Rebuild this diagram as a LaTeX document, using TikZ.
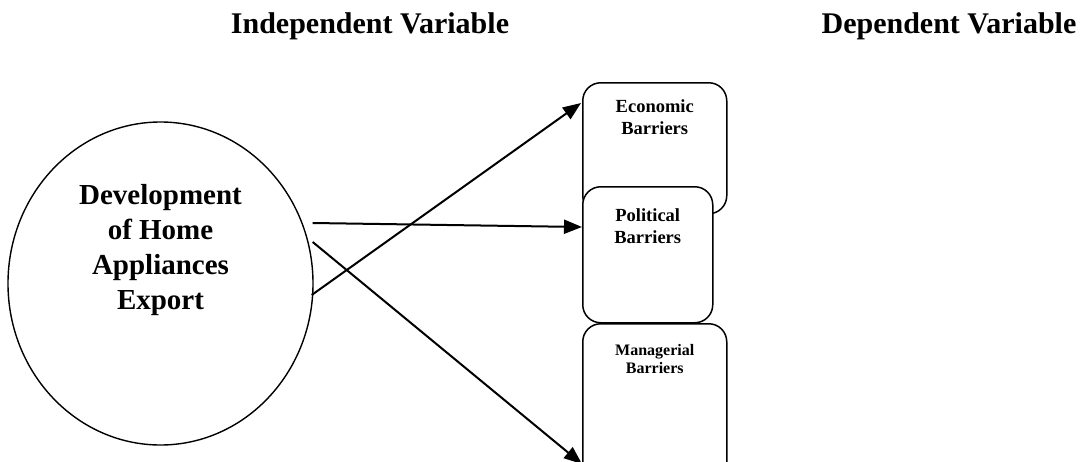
\documentclass[tikz,border=0pt]{standalone}
\usepackage{fontspec}
\setmainfont{Liberation Serif}
\usetikzlibrary{shapes.geometric,arrows.meta,calc}
\begin{document}
\begin{tikzpicture}[x=1pt,y=-1pt,
  title/.style={font=\fontsize{30}{34}\selectfont\bfseries, inner sep=0pt},
  bigcircle/.style={ellipse, draw, line width=1.4pt, inner sep=0pt},
  barrier/.style={draw, fill=white, rounded corners=18pt, line width=1.5pt, inner sep=0pt, anchor=north west},
  btext/.style={font=\fontsize{18.5}{22}\selectfont\bfseries, align=center, inner sep=0pt, anchor=north},
  link/.style={line width=2pt, -{Triangle[length=18pt,width=14pt]}}
]
\useasboundingbox (0,0) rectangle (1080,461);
\clip (0,0) rectangle (1080,461);

% headings
\node[title] (indep) at (370,26) {Independent Variable};
\node[title] (dep) at (949,26) {Dependent Variable};

% independent variable
\node[bigcircle, minimum width=305pt, minimum height=323pt] (dev) at (160.5,283.5) {};
\node[font=\fontsize{29}{35}\selectfont\bfseries, align=center, inner sep=0pt] (devtext) at (160.5,250)
  {Development\\of Home\\Appliances\\Export};

% dependent variables
\node[barrier, minimum width=144pt, minimum height=131pt] (econ) at (582,82) {};
\node[barrier, minimum width=130pt, minimum height=136pt] (pol) at (582,186) {};
\node[barrier, minimum width=144pt, minimum height=170pt] (mgr) at (582,323) {};

\node[btext] (econtext) at ($(econ.north)+(0,17)$) {Economic\\Barriers};
\node[btext] (poltext) at ($(pol.north)+(0,22)$) {Political\\Barriers};
\node[btext, font=\fontsize{16}{18}\selectfont\bfseries] (mgrtext) at ($(mgr.north)+(0,21)$) {Managerial\\Barriers};

% arrow end points
\coordinate (s1) at ($(dev.east)+(-2,11.5)$);
\coordinate (s2) at ($(dev.east)+(-1,-60.5)$);
\coordinate (s3) at ($(dev.east)+(-1,-41.5)$);
\coordinate (t1) at ($(econ.north west)+(-1,21)$);
\coordinate (t2) at ($(pol.north west)+(0,41)$);
\coordinate (t3) at ($(mgr.north west)+(0,141)$);

\draw[link] (s1) -- (t1);
\draw[link] (s2) -- (t2);
\draw[link] (s3) -- (t3);
\end{tikzpicture}
\end{document}
